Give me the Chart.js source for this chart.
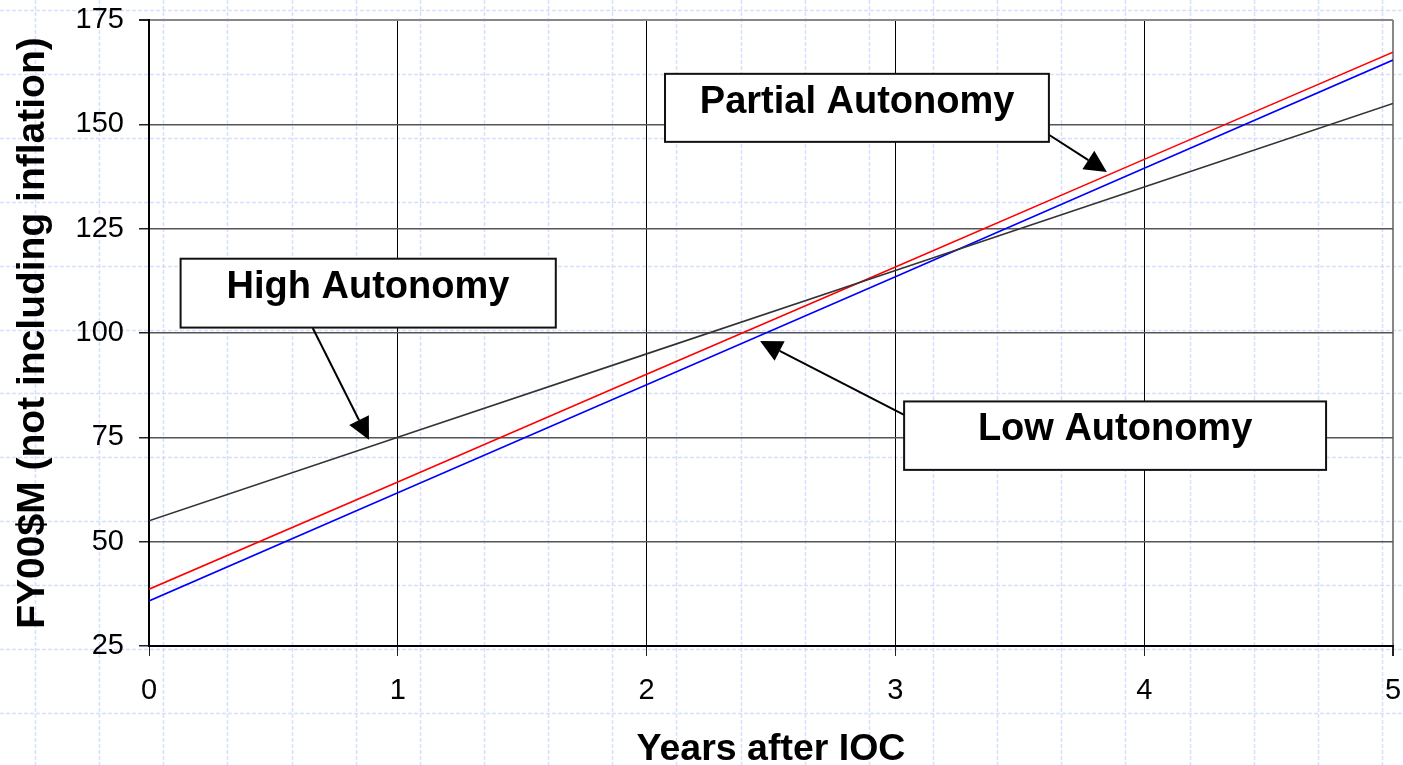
<!DOCTYPE html>
<html>
<head>
<meta charset="utf-8">
<script src="https://cdn.jsdelivr.net/npm/chart.js@4.4.1/dist/chart.umd.min.js"></script>
<style>
  html, body { margin: 0; padding: 0; background: #fff; }
  canvas { display: block; }
</style>
</head>
<body>
<canvas id="chart" width="1403" height="765"></canvas>
<script>
"use strict";

// cost per year, FY00 $M
const years = [0, 1, 2, 3, 4, 5];
const highAutonomy = [55, 75, 95, 115, 135, 155];
const partialAutonomy = [38.6, 64.3, 90.1, 115.8, 141.6, 167.3];
const lowAutonomy = [35.8, 61.7, 87.6, 113.5, 139.5, 165.4];
const xTicks = [0, 1, 2, 3, 4, 5];
const yTicks = [25, 50, 75, 100, 125, 150, 175];

const FONT = "'Liberation Sans', Arial, sans-serif";

// callout boxes, in axis units
const callouts = [
  {text: 'Partial Autonomy', x0: 2.074, x1: 3.617, y0: 162.1, y1: 145.8, tx: 2.846, ty: 152.7,
   from: [3.617, 147.5], to: [3.850, 138.6]},
  {text: 'High Autonomy', x0: 0.127, x1: 1.635, y0: 117.8, y1: 101.3, tx: 0.880, ty: 108.35,
   from: [0.658, 101.2], to: [0.884, 74.4]},
  {text: 'Low Autonomy', x0: 3.035, x1: 4.731, y0: 83.6, y1: 67.2, tx: 3.883, ty: 74.4,
   from: [3.035, 80.4], to: [2.456, 98.1]}
];

function series(values) {
  return years.map(function (x, i) { return {x: x, y: values[i]}; });
}

// light dashed slide grid behind everything
const slideGrid = {
  id: 'slideGrid',
  beforeDraw: function (chart) {
    const c = chart.ctx;
    c.save();
    c.strokeStyle = 'rgba(202,216,248,0.8)';
    c.lineWidth = 1.5;
    c.setLineDash([4, 2]);
    for (let x = 35; x < chart.width; x += 64.14) {
      c.beginPath(); c.moveTo(Math.round(x) + 0.5, 0); c.lineTo(Math.round(x) + 0.5, chart.height); c.stroke();
    }
    for (let y = 10; y < chart.height; y += 63.9) {
      c.beginPath(); c.moveTo(0, Math.round(y) + 0.5); c.lineTo(chart.width, Math.round(y) + 0.5); c.stroke();
    }
    c.restore();
  }
};

const calloutPlugin = {
  id: 'callouts',
  afterDatasetsDraw: function (chart) {
    const c = chart.ctx;
    const sx = chart.scales.x, sy = chart.scales.y;
    c.save();
    callouts.forEach(function (k) {
      // arrow
      const ax = sx.getPixelForValue(k.from[0]), ay = sy.getPixelForValue(k.from[1]);
      const bx = sx.getPixelForValue(k.to[0]), by = sy.getPixelForValue(k.to[1]);
      const len = Math.hypot(bx - ax, by - ay);
      const ux = (bx - ax) / len, uy = (by - ay) / len;
      const hl = 22, hw = 11;
      c.strokeStyle = '#000';
      c.lineWidth = 2;
      c.beginPath();
      c.moveTo(ax, ay);
      c.lineTo(bx - ux * hl, by - uy * hl);
      c.stroke();
      c.fillStyle = '#000';
      c.beginPath();
      c.moveTo(bx, by);
      c.lineTo(bx - ux * hl - uy * hw, by - uy * hl + ux * hw);
      c.lineTo(bx - ux * hl + uy * hw, by - uy * hl - ux * hw);
      c.closePath();
      c.fill();

      // box
      const x0 = sx.getPixelForValue(k.x0), x1 = sx.getPixelForValue(k.x1);
      const y0 = sy.getPixelForValue(k.y0), y1 = sy.getPixelForValue(k.y1);
      c.fillStyle = '#fff';
      c.fillRect(x0, y0, x1 - x0, y1 - y0);
      c.lineWidth = 2;
      c.strokeStyle = '#111';
      c.strokeRect(x0, y0, x1 - x0, y1 - y0);

      c.fillStyle = '#000';
      c.font = 'bold 38px ' + FONT;
      c.textAlign = 'center';
      c.textBaseline = 'alphabetic';
      c.fillText(k.text, sx.getPixelForValue(k.tx), sy.getPixelForValue(k.ty));
    });
    c.restore();
  }
};

const ctx = document.getElementById('chart').getContext('2d');
const myChart = new Chart(ctx, {
  type: 'line',
  data: {
    datasets: [
      {label: 'High Autonomy', data: series(highAutonomy), borderColor: '#333', borderWidth: 1.6, pointRadius: 0, tension: 0},
      {label: 'Partial Autonomy', data: series(partialAutonomy), borderColor: '#ff0000', borderWidth: 1.6, pointRadius: 0, tension: 0},
      {label: 'Low Autonomy', data: series(lowAutonomy), borderColor: '#0000ff', borderWidth: 1.6, pointRadius: 0, tension: 0}
    ]
  },
  options: {
    responsive: false,
    animation: false,
    devicePixelRatio: 1,
    layout: {padding: {top: 20, right: 10, left: 0, bottom: 0}},
    plugins: {legend: {display: false}, tooltip: {enabled: false}},
    scales: {
      x: {
        type: 'linear',
        min: 0,
        max: 5,
        afterBuildTicks: function (s) { s.ticks = xTicks.map(function (v) { return {value: v}; }); },
        ticks: {font: {family: FONT, size: 29}, color: '#000', padding: 18, maxRotation: 0},
        grid: {
          color: function (c) { return c.tick && c.tick.value === 5 ? '#888' : '#000'; },
          lineWidth: function (c) { return c.tick && c.tick.value === 5 ? 2 : 1; },
          tickLength: 10,
          tickColor: '#222'
        },
        border: {color: '#000', width: 2},
        title: {display: true, text: 'Years after IOC', color: '#000',
          font: {family: FONT, size: 37.5, weight: 'bold', lineHeight: 1}, padding: {top: 0, bottom: -3}},
        afterFit: function (s) {
          s.height = 119;
          s.paddingLeft = 0;
          s.paddingRight = 0;
        }
      },
      y: {
        min: 25,
        max: 175,
        afterBuildTicks: function (s) { s.ticks = yTicks.map(function (v) { return {value: v}; }); },
        ticks: {font: {family: FONT, size: 29}, color: '#000', padding: 15},
        grid: {
          color: function (c) { return c.tick && c.tick.value === 175 ? '#888' : '#555'; },
          lineWidth: function (c) { return c.tick && c.tick.value === 175 ? 2 : 1.5; },
          tickLength: 10,
          tickColor: '#222'
        },
        border: {color: '#000', width: 2},
        title: {display: true, text: 'FY00$M (not including inflation)', color: '#000',
          font: {family: FONT, size: 39, weight: 'bold', lineHeight: 1}, padding: {top: 14, bottom: 0}},
        afterFit: function (s) {
          s.width = 149;
          s.paddingTop = 0;
          s.paddingBottom = 0;
        }
      }
    }
  },
  plugins: [slideGrid, calloutPlugin]
});
</script>
</body>
</html>
